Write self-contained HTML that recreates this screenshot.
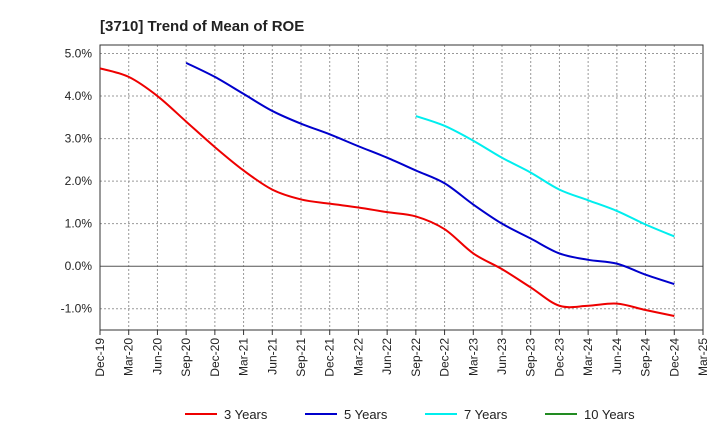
<!DOCTYPE html>
<html><head><meta charset="utf-8"><style>
body{margin:0;background:#fff;font-family:"Liberation Sans",sans-serif;}
svg text{font-family:"Liberation Sans",sans-serif;}
</style></head><body>
<svg id="c" width="720" height="440">
<text x="100" y="31" font-size="15" font-weight="bold" fill="#222">[3710]  Trend of Mean of ROE</text>
<g id="grid"></g><g id="axes"></g><g id="series"></g><g id="legend"></g>
</svg>
<script>
const xLabels=["Dec-19","Mar-20","Jun-20","Sep-20","Dec-20","Mar-21","Jun-21","Sep-21","Dec-21","Mar-22","Jun-22","Sep-22","Dec-22","Mar-23","Jun-23","Sep-23","Dec-23","Mar-24","Jun-24","Sep-24","Dec-24","Mar-25"];
const yTicks=[-1,0,1,2,3,4,5];
const seriesNames=["3 Years","5 Years","7 Years","10 Years"];
const seriesColors=["#ee0000","#0000cc","#00eeee","#228b22"];
const s3=[4.65,4.45,4.0,3.4,2.8,2.25,1.8,1.57,1.47,1.38,1.27,1.17,0.87,0.3,-0.07,-0.5,-0.93,-0.93,-0.88,-1.03,-1.17];
const s3Start=0;
const s5=[4.78,4.45,4.05,3.65,3.35,3.1,2.82,2.55,2.25,1.95,1.45,1.0,0.65,0.3,0.15,0.06,-0.2,-0.42];
const s5Start=3;
const s7=[3.53,3.3,2.95,2.55,2.2,1.8,1.55,1.3,0.98,0.7];
const s7Start=11;
const s10=[];
const s10Start=0;
const L=100,R=703,T=45,B=330,yMin=-1.5,yMax=5.2;
const X=i=>L+(R-L)*i/(xLabels.length-1);
const Y=v=>B-(v-yMin)/(yMax-yMin)*(B-T);
const NS="http://www.w3.org/2000/svg";
function mk(t,a,p){const e=document.createElementNS(NS,t);for(const k in a)e.setAttribute(k,a[k]);p.appendChild(e);return e;}
const g=document.getElementById('grid'),ax=document.getElementById('axes'),se=document.getElementById('series'),lg=document.getElementById('legend');
xLabels.forEach((s,i)=>{
 if(i===0||i===xLabels.length-1)return;
 const l=mk('line',{x1:X(i),x2:X(i),y1:T,y2:B,stroke:'#999','stroke-dasharray':'2,2','stroke-width':1},g);
 
 
});
yTicks.forEach(v=>{
 const l=mk('line',{x1:L,x2:R,y1:Y(v),y2:Y(v),stroke:v===0?'#555':'#999','stroke-dasharray':v===0?'':'2,2','stroke-width':1},g);
 
 
 const t=mk('text',{x:L-8,y:Y(v)+4,'text-anchor':'end','font-size':12,fill:'#222'},ax);
 t.textContent=v.toFixed(1)+'%';
 
 
});
const fr=mk('rect',{x:L,y:T,width:R-L,height:B-T,fill:'none',stroke:'#333'},ax);


xLabels.forEach((s,i)=>{
 mk('line',{x1:X(i),x2:X(i),y1:B,y2:B+5,stroke:'#333'},ax);
 const t=mk('text',{x:0,y:0,'text-anchor':'end','font-size':12,fill:'#222',transform:`translate(${X(i)+4},${B+8}) rotate(-90)`},ax);
 t.textContent=s;
 
 
});
function path(vals,start){
 const p=vals.map((v,i)=>[X(start+i),Y(v)]);
 if(p.length<2)return '';
 let d=`M${p[0][0]},${p[0][1]}`;
 for(let i=0;i<p.length-1;i++){
  const p0=p[i-1]||p[i],p1=p[i],p2=p[i+1],p3=p[i+2]||p2;
  const c1=[p1[0]+(p2[0]-p0[0])/6,p1[1]+(p2[1]-p0[1])/6];
  const c2=[p2[0]-(p3[0]-p1[0])/6,p2[1]-(p3[1]-p1[1])/6];
  d+=` C${c1[0]},${c1[1]} ${c2[0]},${c2[1]} ${p2[0]},${p2[1]}`;
 }
 return d;
}
[[s3,s3Start],[s5,s5Start],[s7,s7Start],[s10,s10Start]].forEach(([v,st],k)=>{
 if(!v.length)return;
 const e=mk('path',{d:path(v,st),fill:'none',stroke:seriesColors[k],'stroke-width':2},se);
 
 
});
const lx=[185,305,425,545];
seriesNames.forEach((n,k)=>{
 const gg=mk('g',{},lg);
 
 
 mk('line',{x1:lx[k],x2:lx[k]+32,y1:414,y2:414,stroke:seriesColors[k],'stroke-width':2},gg);
 const t=mk('text',{x:lx[k]+39,y:419,'font-size':13,fill:'#222'},gg);
 t.textContent=n;
});
</script>
</body></html>
